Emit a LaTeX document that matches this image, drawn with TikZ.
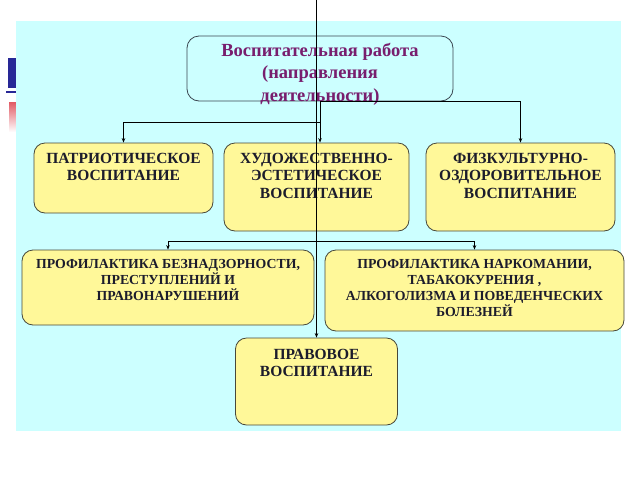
\documentclass[tikz,border=0pt]{standalone}
\usepackage{fontspec}
\setmainfont{Liberation Serif}
\usetikzlibrary{arrows.meta,calc}
\definecolor{bgcyan}{RGB}{204,255,255}
\definecolor{boxyellow}{RGB}{255,248,153}
\definecolor{boxline}{RGB}{72,72,58}
\definecolor{titleline}{RGB}{58,70,80}
\definecolor{titletext}{RGB}{120,30,110}
\definecolor{boxtext}{RGB}{28,28,44}
\definecolor{slideblue}{RGB}{40,40,150}
\definecolor{slidered}{RGB}{225,90,100}
\begin{document}
\begin{tikzpicture}[x=1pt,y=-1pt,
  ybox/.style={draw=boxline,line width=0.8pt,fill=boxyellow,rounded corners=11pt,inner sep=0pt},
  tbox/.style={draw=titleline,line width=0.8pt,fill=bgcyan,rounded corners=12pt,inner sep=0pt},
  rowone/.style={anchor=north,inner sep=0pt,align=center,text=boxtext,font=\fontsize{15.5}{17.5}\selectfont\bfseries},
  rowtwo/.style={anchor=north,inner sep=0pt,align=center,text=boxtext,font=\fontsize{13.8}{16}\selectfont\bfseries},
  ttext/.style={anchor=north,inner sep=0pt,align=center,text=titletext,font=\fontsize{18.5}{22.5}\selectfont\bfseries},
  conn/.style={draw=black,line width=0.7pt},
  arr/.style={conn,-{Stealth[length=4.5pt,width=3.5pt]}}]
\useasboundingbox (0,0) rectangle (640,480);
% slide remnants at left
\fill[slideblue] (8,58) rectangle (16,88);
\fill[slideblue] (6,91) rectangle (16,93);
\shade[top color=slidered,bottom color=white] (9,102) rectangle (16,132);
% background panel
\fill[bgcyan] (16,21) rectangle (621,431);
% boxes
\node[tbox,minimum width=266pt,minimum height=65pt] (t) at (320,68.5) {};
\node[ybox,minimum width=179pt,minimum height=70pt] (b1) at (123.5,178) {};
\node[ybox,minimum width=185pt,minimum height=88pt] (b2) at (316.5,187) {};
\node[ybox,minimum width=189pt,minimum height=88pt] (b3) at (520.5,187) {};
\node[ybox,minimum width=292pt,minimum height=75pt] (b4) at (168,287.5) {};
\node[ybox,minimum width=299pt,minimum height=81pt] (b5) at (474.5,290.5) {};
\node[ybox,minimum width=162pt,minimum height=87pt] (b6) at (316.5,381.5) {};
% texts
\node[ttext] (tt) at ($(t.north)+(0,7)$) {Воспитательная работа\\(направления\\деятельности)};
\node[rowone] (t1) at ($(b1.north)+(0,10)$) {ПАТРИОТИЧЕСКОЕ\\ВОСПИТАНИЕ};
\node[rowone] (t2) at ($(b2.north)+(0,10)$) {ХУДОЖЕСТВЕННО-\\ЭСТЕТИЧЕСКОЕ\\ВОСПИТАНИЕ};
\node[rowone] (t3) at ($(b3.north)+(0,10)$) {ФИЗКУЛЬТУРНО-\\ОЗДОРОВИТЕЛЬНОЕ\\ВОСПИТАНИЕ};
\node[rowtwo] (t4) at ($(b4.north)+(0,10)$) {ПРОФИЛАКТИКА БЕЗНАДЗОРНОСТИ,\\ПРЕСТУПЛЕНИЙ И\\ПРАВОНАРУШЕНИЙ};
\node[rowtwo] (t5) at ($(b5.north)+(0,10)$) {ПРОФИЛАКТИКА НАРКОМАНИИ,\\ТАБАКОКУРЕНИЯ ,\\АЛКОГОЛИЗМА И ПОВЕДЕНЧЕСКИХ\\БОЛЕЗНЕЙ};
\node[rowone] (t6) at ($(b6.north)+(0,11)$) {ПРАВОВОЕ\\ВОСПИТАНИЕ};
% connectors from title box
\draw[arr] (t.south) -- ++(0,21) -| (b1.north);
\draw[arr] (t.south) -- (t.south |- b2.north);
\draw[arr] (t.south) -| (b3.north);
% second-level branch
\coordinate (j) at (316.5,241);
\draw[arr] (j) -| (b4.north);
\draw[arr] (j) -| (b5.north);
% long vertical line from the top edge
\coordinate (top) at (316.5,0);
\draw[arr] (top) -- (b6.north);
\end{tikzpicture}
\end{document}
